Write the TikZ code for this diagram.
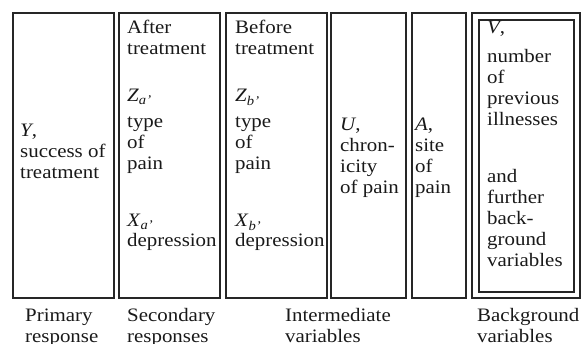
\documentclass[tikz,border=0pt]{standalone}
\usepackage{fontspec}
\setmainfont[FakeStretch=1.1]{Liberation Serif}
\usepackage{tikz}

\tikzset{
  colbox/.style={draw=black!85, line width=1.2pt, inner sep=0pt, outer sep=0pt},
  % base of a text = baseline of its last line
  txt/.style={anchor=base west, inner sep=0pt, align=left, text=black!90,
    font=\fontsize{19}{21}\selectfont},
}

\begin{document}
\begin{tikzpicture}[x=1pt, y=-1pt]
        \useasboundingbox (0,0) rectangle (581,344);
        % the columns
        \node [colbox, minimum width=101, minimum height=285] (prim) at (63.5, 155.5) {};
        \node [colbox, minimum width=101, minimum height=285] (sec) at (169.5, 155.5) {};
        \node [colbox, minimum width=101, minimum height=285] (before) at (276.5, 155.5) {};
        \node [colbox, minimum width=75, minimum height=285] (chron) at (368.5, 155.5) {};
        \node [colbox, minimum width=54, minimum height=285] (site) at (439, 155.5) {};
        \node [colbox, minimum width=108, minimum height=285] (backout) at (526, 155.5) {};
        \node [colbox, minimum width=95, minimum height=272] (backin) at (526.5, 156) {};
        % texts in the columns
        \node [txt] (ytxt) at (20, 179) {\textit{Y},\\success of\\treatment};
        \node [txt] (aftxt) at (127, 55) {After\\treatment};
        \node [txt] (zatxt) at (127, 102) {\textit{Z}\textsubscript{\textit{a’}}};
        \node [txt] (zadesc) at (127, 170) {type\\of\\pain};
        \node [txt] (xatxt) at (127, 227) {\textit{X}\textsubscript{\textit{a’}}};
        \node [txt] (xadesc) at (127, 247) {depression};
        \node [txt] (bftxt) at (235, 55) {Before\\treatment};
        \node [txt] (zbtxt) at (235, 102) {\textit{Z}\textsubscript{\textit{b’}}};
        \node [txt] (zbdesc) at (235, 170) {type\\of\\pain};
        \node [txt] (xbtxt) at (235, 227) {\textit{X}\textsubscript{\textit{b’}}};
        \node [txt] (xbdesc) at (235, 247) {depression};
        \node [txt] (utxt) at (340, 194) {\textit{U},\\chron-\\icity\\of pain};
        \node [txt] (atxt) at (415, 194) {\textit{A},\\site\\of\\pain};
        \node [txt] (vtxt) at (487, 34) {\textit{V},};
        \node [txt] (vdesc) at (487, 126) {number\\of\\previous\\illnesses};
        \node [txt] (further) at (487, 267) {and\\further\\back-\\ground\\variables};
        % labels below
        \node [txt] (lprim) at (25, 343) {Primary\\response};
        \node [txt] (lsec) at (127, 343) {Secondary\\responses};
        \node [txt] (linter) at (285, 343) {Intermediate\\variables};
        \node [txt] (lback) at (477, 343) {Background\\variables};
\end{tikzpicture}
\end{document}
